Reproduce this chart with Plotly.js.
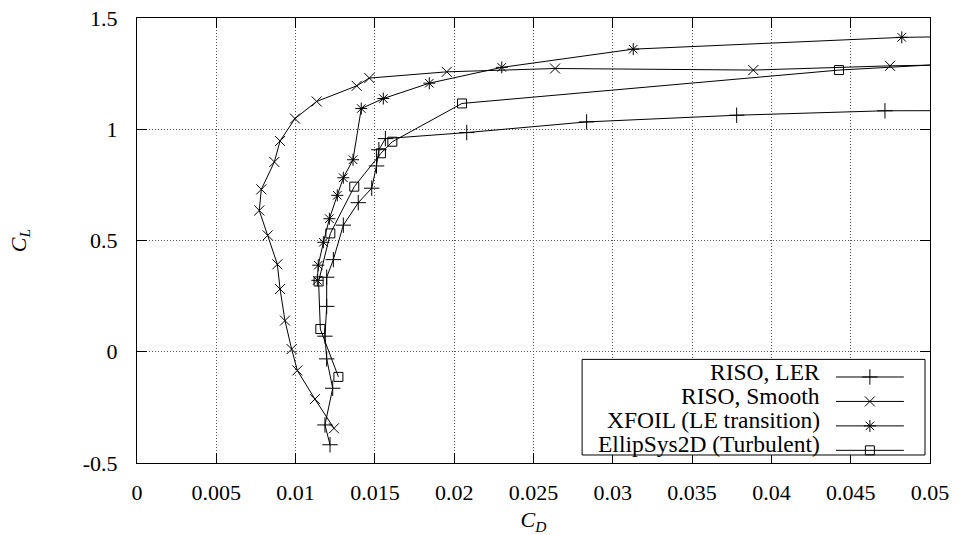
<!DOCTYPE html>
<html>
<head>
<meta charset="utf-8">
<script src="https://cdn.plot.ly/plotly-3.0.1.min.js"></script>
<style>html,body{margin:0;padding:0;background:#fff;}#chart{width:960px;height:535px;}</style>
</head>
<body>
<div id="chart"></div>
<script>
// RISO, LER
const lerCD = [0.01217, 0.01185, 0.01234, 0.01196, 0.01185, 0.01196, 0.01196, 0.01238, 0.01301, 0.01395, 0.01480, 0.01510, 0.01525, 0.01566, 0.02079, 0.02835, 0.03781, 0.04716, 0.0600];
const lerCL = [-0.418, -0.329, -0.164, -0.032, 0.070, 0.204, 0.335, 0.414, 0.569, 0.670, 0.735, 0.835, 0.908, 0.958, 0.985, 1.033, 1.063, 1.083, 1.085];
// RISO, Smooth
const smoothCD = [0.01242, 0.01122, 0.01011, 0.00975, 0.00933, 0.00902, 0.00885, 0.00824, 0.00771, 0.00784, 0.00866, 0.00902, 0.00996, 0.01133, 0.01385, 0.01465, 0.01953, 0.02636, 0.03886, 0.04748, 0.0600];
const smoothCL = [-0.344, -0.213, -0.084, 0.012, 0.140, 0.282, 0.393, 0.523, 0.635, 0.730, 0.853, 0.947, 1.048, 1.125, 1.195, 1.230, 1.258, 1.273, 1.266, 1.285, 1.300];
// XFOIL (LE transition)
const xfoilCD = [0.01137, 0.01143, 0.01175, 0.01213, 0.01263, 0.01301, 0.01362, 0.01414, 0.01553, 0.01843, 0.02300, 0.03129, 0.04822, 0.0600];
const xfoilCL = [0.321, 0.389, 0.492, 0.598, 0.703, 0.782, 0.863, 1.093, 1.138, 1.207, 1.278, 1.360, 1.413, 1.425];
// EllipSys2D (Turbulent)
const ellCD = [0.01270, 0.01156, 0.01145, 0.01219, 0.01370, 0.01538, 0.01610, 0.02049, 0.04426, 0.0600];
const ellCL = [-0.113, 0.102, 0.316, 0.532, 0.742, 0.892, 0.944, 1.116, 1.266, 1.328];

const seriesNames = ['RISO, LER', 'RISO, Smooth', 'XFOIL (LE transition)', 'EllipSys2D (Turbulent)'];
const xTickVals = [0, 0.005, 0.01, 0.015, 0.02, 0.025, 0.03, 0.035, 0.04, 0.045, 0.05];
const xTickText = ['0', '0.005', '0.01', '0.015', '0.02', '0.025', '0.03', '0.035', '0.04', '0.045', '0.05'];
const yTickVals = [-0.5, 0, 0.5, 1, 1.5];
const yTickText = ['-0.5', '0', '0.5', '1', '1.5'];

const FONT = '"Liberation Serif", "Times New Roman", Times, serif';
const mk = (symbol, size) => ({symbol: symbol, size: size, color: '#000', line: {color: '#000', width: 1}});
const base = {type: 'scatter', mode: 'lines+markers', line: {color: '#000', width: 1}, showlegend: true, hoverinfo: 'x+y'};

const traces = [
  Object.assign({}, base, {x: lerCD, y: lerCL, name: ' ', marker: mk('cross-thin', 11)}),
  Object.assign({}, base, {x: smoothCD, y: smoothCL, name: '  ', marker: mk('x-thin', 10)}),
  Object.assign({}, base, {x: xfoilCD, y: xfoilCL, name: '   ', marker: mk('asterisk', 10)}),
  Object.assign({}, base, {x: ellCD, y: ellCL, name: '    ', marker: mk('square-open', 9)})
];

const rowY = [0.2052, 0.1512, 0.0966, 0.0420];
const annotations = seriesNames.map((n, i) => ({
  xref: 'paper', yref: 'paper', x: 0.8638, y: rowY[i], xanchor: 'right', yanchor: 'middle',
  text: n, showarrow: false, font: {family: FONT, size: 23.5, color: '#000'}
}));

const layout = {
  width: 960, height: 535,
  margin: {l: 137, r: 30, t: 18, b: 72},
  paper_bgcolor: '#fff', plot_bgcolor: '#fff',
  font: {family: FONT, size: 22, color: '#000'},
  xaxis: {
    range: [0, 0.05], tickvals: xTickVals, ticktext: xTickText,
    ticks: 'inside', ticklen: 10, tickcolor: '#000', tickwidth: 1,
    showline: true, linecolor: '#000', linewidth: 1, mirror: 'ticks',
    showgrid: true, gridcolor: '#555', gridwidth: 1, griddash: '1px,2px',
    zeroline: false, ticklabelstandoff: 10,
    tickfont: {family: FONT, size: 22},
    title: {text: '<i>C<sub>D</sub></i>', font: {family: FONT, size: 22}, standoff: 8}
  },
  yaxis: {
    range: [-0.5, 1.5], tickvals: yTickVals, ticktext: yTickText,
    ticks: 'inside', ticklen: 10, tickcolor: '#000', tickwidth: 1,
    showline: true, linecolor: '#000', linewidth: 1, mirror: 'ticks',
    showgrid: true, gridcolor: '#555', gridwidth: 1, griddash: '1px,2px',
    zeroline: false, ticklabelstandoff: 14,
    tickfont: {family: FONT, size: 22},
    title: {text: '<i>C<sub>L</sub></i>', font: {family: FONT, size: 22}, standoff: 50}
  },
  showlegend: true,
  legend: {
    x: 0.875, xanchor: 'left', y: 0.232, yanchor: 'top',
    bgcolor: 'rgba(0,0,0,0)', borderwidth: 0,
    font: {family: FONT, size: 16.5}, itemwidth: 68, tracegroupgap: 0,
    traceorder: 'normal'
  },
  shapes: [{
    type: 'rect', xref: 'paper', yref: 'paper', x0: 0.5613, x1: 0.9937, y0: 0.0180, y1: 0.2328,
    line: {color: '#000', width: 1}, fillcolor: '#fff', layer: 'above'
  }],
  annotations: annotations
};

Plotly.newPlot('chart', traces, layout, {displayModeBar: false, staticPlot: true});
</script>
</body>
</html>
